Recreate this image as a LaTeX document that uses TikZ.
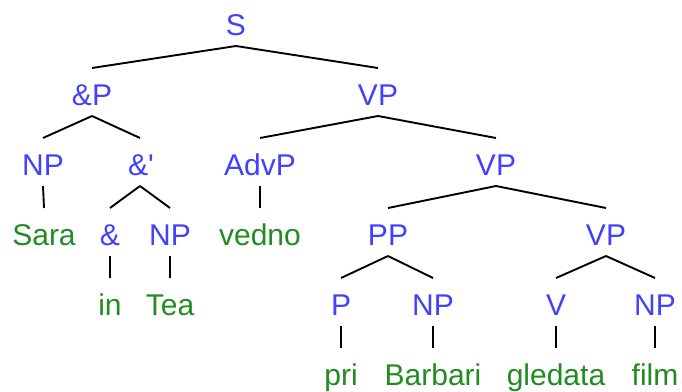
\documentclass[tikz,border=0pt]{standalone}
\usepackage{fontspec}
\setmainfont{Liberation Sans}
\definecolor{catblue}{RGB}{64,64,255}
\definecolor{wordgreen}{RGB}{34,139,34}
\newcommand\treeedge[2]{\draw[branch] ([yshift=-11pt]#1.base) -- ([yshift=37pt]#2.base);}
\begin{document}
\begin{tikzpicture}[x=1pt,y=-1pt,
  lab/.style={inner sep=0pt, anchor=base, font=\fontsize{30}{36}\selectfont},
  cat/.style={lab, text=catblue},
  word/.style={lab, text=wordgreen},
  branch/.style={line width=1.9pt, draw=black}]
\useasboundingbox (0,0) rectangle (682,391);
% level 0
\node[cat] (S) at (236,35) {S};
% level 1
\node[cat] (andP) at (92,105) {\&P};
\node[cat] (VP1) at (378,105) {VP};
% level 2
\node[cat] (NP1) at (43,175) {NP};
\node[cat] (andbar) at (141,175) {\&\textquotesingle};
\node[cat] (AdvP) at (260,175) {AdvP};
\node[cat] (VP2) at (496,175) {VP};
% level 3
\node[word] (Sara) at (44,245) {Sara};
\node[cat] (and) at (110,245) {\&};
\node[cat] (NP2) at (170,245) {NP};
\node[word] (vedno) at (260,245) {vedno};
\node[cat] (PP) at (388,245) {PP};
\node[cat] (VP3) at (606,245) {VP};
% level 4
\node[word] (in) at (110,315) {in};
\node[word] (Tea) at (170,315) {Tea};
\node[cat] (P) at (341,315) {P};
\node[cat] (NP3) at (433,315) {NP};
\node[cat] (V) at (556,315) {V};
\node[cat] (NP4) at (655,315) {NP};
% level 5
\node[word] (pri) at (341,385) {pri};
\node[word] (Barbari) at (433,385) {Barbari};
\node[word] (gledata) at (556,385) {gledata};
\node[word] (film) at (655,385) {film};
% edges
\treeedge{S}{andP}
\treeedge{S}{VP1}
\treeedge{andP}{NP1}
\draw[branch] ([yshift=-11pt]andP.base) -- ([yshift=37pt,xshift=-1pt]andbar.base);
\treeedge{VP1}{AdvP}
\treeedge{VP1}{VP2}
\treeedge{NP1}{Sara}
\draw[branch] ([yshift=-11pt,xshift=-1pt]andbar.base) -- ([yshift=37pt]and.base);
\draw[branch] ([yshift=-11pt,xshift=-1pt]andbar.base) -- ([yshift=37pt]NP2.base);
\treeedge{AdvP}{vedno}
\treeedge{VP2}{PP}
\treeedge{VP2}{VP3}
\treeedge{and}{in}
\treeedge{NP2}{Tea}
\treeedge{PP}{P}
\treeedge{PP}{NP3}
\treeedge{VP3}{V}
\treeedge{VP3}{NP4}
\treeedge{P}{pri}
\treeedge{NP3}{Barbari}
\treeedge{V}{gledata}
\treeedge{NP4}{film}
\end{tikzpicture}
\end{document}
